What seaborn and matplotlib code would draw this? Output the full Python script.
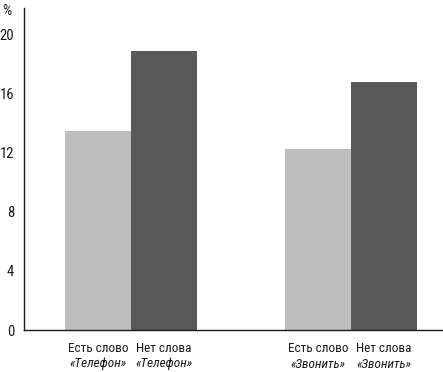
import matplotlib
matplotlib.use("Agg")
import matplotlib.pyplot as plt
import matplotlib.transforms as mtransforms
from matplotlib import font_manager
import seaborn as sns
import pandas as pd

# data
groups = ["Телефон", "Звонить"]
statuses = ["Есть слово", "Нет слова"]
values_has = [13.5, 12.3]
values_not = [18.9, 16.8]
yticks = [0, 4, 8, 12, 16, 20]

df = pd.DataFrame({
    "group": groups * 2,
    "status": [statuses[0]] * 2 + [statuses[1]] * 2,
    "value": values_has + values_not,
})

sns.set_theme(style="white")

fam = "DejaVu Sans"
for cand in ["Liberation Sans Narrow", "Roboto Condensed", "Open Sans Condensed"]:
    try:
        font_manager.findfont(font_manager.FontProperties(family=cand), fallback_to_default=False)
        fam = cand
        break
    except Exception:
        pass
plt.rcParams["font.family"] = [fam, "DejaVu Sans"]

fig = plt.figure(figsize=(4.43, 3.72), dpi=100)
ax = fig.add_axes([24 / 443, 42 / 372, 1 - 24 / 443, (330 - 8) / 372])

sns.barplot(data=df, x="group", y="value", hue="status", order=groups,
            hue_order=statuses, palette=["#bdbdbd", "#595959"], width=0.6,
            saturation=1, ax=ax, legend=False, errorbar=None, linewidth=0)

ax.set_xlim(-0.486, 1.418)
ax.set_ylim(0, 21.83)
ax.set_yticks(yticks)
ax.set_yticklabels([str(v) for v in yticks], fontsize=10.5, color="#1a1a1a")
ax.tick_params(axis="y", length=0, pad=7)
ax.set_xticks([])
ax.set_xlabel("")
ax.set_ylabel("")
for s in ["top", "right"]:
    ax.spines[s].set_visible(False)
for s in ["left", "bottom"]:
    ax.spines[s].set_color("#1a1a1a")
    ax.spines[s].set_linewidth(1.0)

trans = mtransforms.blended_transform_factory(ax.transData, fig.transFigure)
bars = [p for p in ax.patches]
labels = []
for st in statuses:
    for g in groups:
        labels.append((st, g))
for p, (st, g) in zip(bars, labels):
    cx = p.get_x() + p.get_width() / 2
    ax.text(cx, 1 - 349 / 372, st, transform=trans, ha="center", va="center",
            fontsize=9.5, color="#1a1a1a")
    ax.text(cx, 1 - 364 / 372, "«" + g + "»", transform=trans, ha="center",
            va="center", fontsize=9.5, style="italic", color="#1a1a1a")

fig.text(7 / 443, 1 - 11 / 372, "%", ha="center", va="center", fontsize=10.5,
         color="#1a1a1a")

fig.savefig("out.png", dpi=100)
